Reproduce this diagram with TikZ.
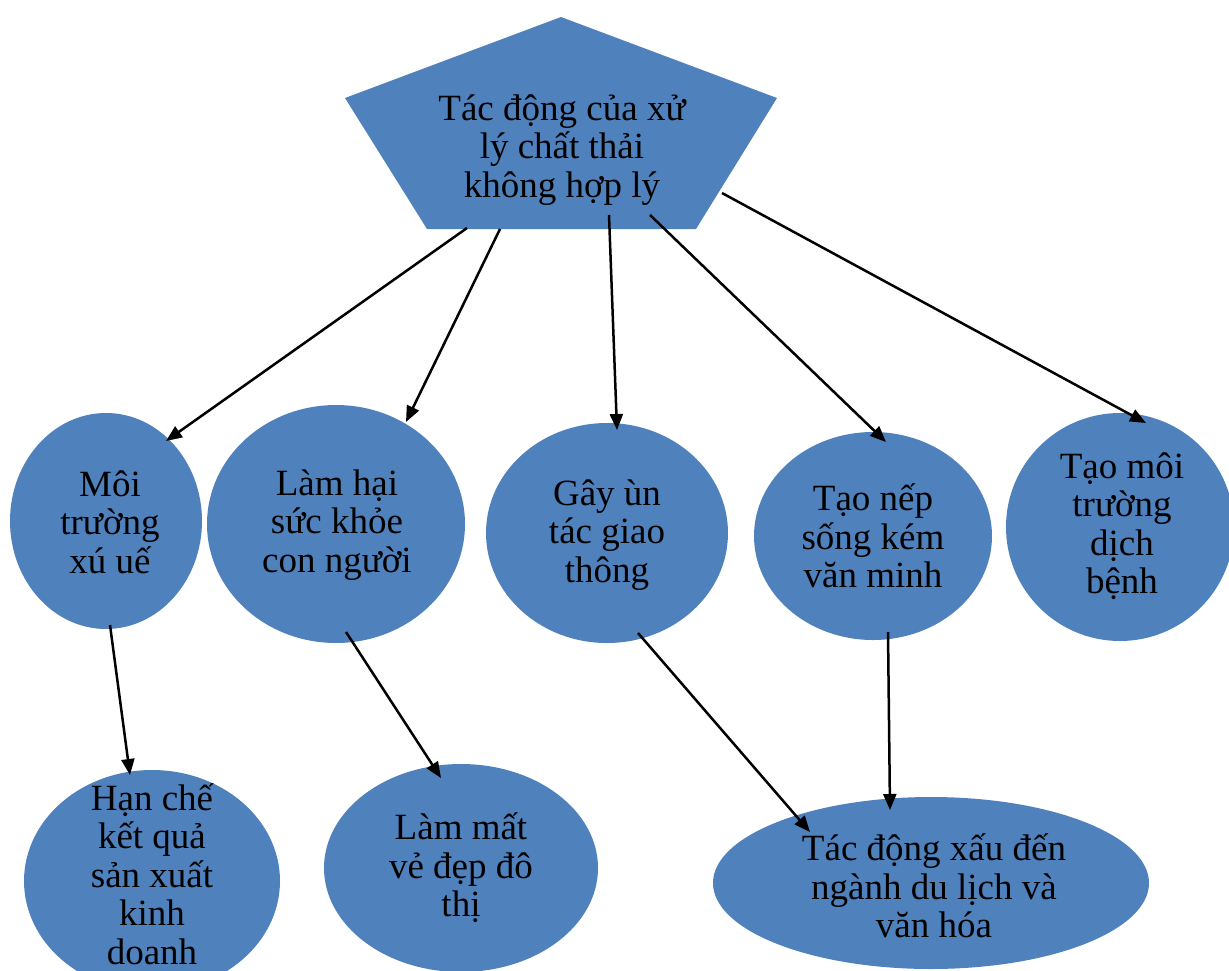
\documentclass[tikz,border=0pt]{standalone}
\usepackage{fontspec}
\setmainfont{Liberation Serif}
\usetikzlibrary{arrows.meta,shapes.geometric}
\definecolor{blu}{HTML}{4F81BD}
\tikzset{
  blob/.style={ellipse,fill=blu,draw=none,inner sep=0pt},
  txt/.style={align=center,inner sep=0pt,font=\fontsize{37}{38.5}\selectfont},
  arr/.style={line width=2.5pt,-{Triangle[length=16pt,width=13pt]}}
}
\begin{document}
\begin{tikzpicture}[x=1pt,y=-1pt]
\useasboundingbox (0,0) rectangle (1229,970);
\clip (0,0) rectangle (1229,970);
% pentagon
\fill[blu] (561,17) -- (777,98) -- (696,229) -- (427,229) -- (345,98) -- cycle;
\node[txt] (top) at (562,150) {Tác động của xử\\lý chất thải\\không hợp lý};
% ellipses
\node[blob,minimum width=192pt,minimum height=216pt] (e1) at (106,521) {};
\node[blob,minimum width=258pt,minimum height=238pt] (e2) at (336,524) {};
\node[blob,minimum width=242pt,minimum height=220pt] (e3) at (607,533) {};
\node[blob,minimum width=238pt,minimum height=208pt] (e4) at (873,536) {};
\node[blob,minimum width=228pt,minimum height=228pt] (e5) at (1120,527) {};
\node[blob,minimum width=256pt,minimum height=222pt] (e6) at (152,881) {};
\node[blob,minimum width=274pt,minimum height=208pt] (e7) at (461,868) {};
\node[blob,minimum width=436pt,minimum height=172pt] (e8) at (931,883) {};
% texts
\node[txt] (t1) at (110,522) {Môi\\trường\\xú uế};
\node[txt] (t2) at (337,525) {Làm hại\\sức khỏe\\con người};
\node[txt] (t3) at (607,535) {Gây ùn\\tác giao\\thông};
\node[txt] (t4) at (873,536) {Tạo nếp\\sống kém\\văn minh};
\node[txt] (t5) at (1122,526) {Tạo môi\\trường\\dịch\\bệnh};
\node[txt] (t6) at (152,874) {Hạn chế\\kết quả\\sản xuất\\kinh\\doanh};
\node[txt] (t7) at (461,868) {Làm mất\\vẻ đẹp đô\\thị};
\node[txt] (t8) at (934,886) {Tác động xấu đến\\ngành du lịch và\\văn hóa};
% connectors
\draw[arr] ([shift={(-95,78)}]top.center) -- ([shift={(60,-80)}]e1.center);
\draw[arr] ([shift={(-62,79)}]top.center) -- ([shift={(70,-102)}]e2.center);
\draw[arr] ([shift={(47,65)}]top.center) -- ([shift={(10,-103)}]e3.center);
\draw[arr] ([shift={(88,65)}]top.center) -- ([shift={(13,-94)}]e4.center);
\draw[arr] ([shift={(160,43)}]top.center) -- ([shift={(26,-104)}]e5.center);
\draw[arr] ([shift={(4,104)}]e1.center) -- ([shift={(-22,-106)}]e6.center);
\draw[arr] ([shift={(10,108)}]e2.center) -- ([shift={(-20,-90)}]e7.center);
\draw[arr] ([shift={(31,100)}]e3.center) -- ([shift={(-121,-51)}]e8.center);
\draw[arr] ([shift={(15,96)}]e4.center) -- ([shift={(-41,-73)}]e8.center);
\end{tikzpicture}
\end{document}
